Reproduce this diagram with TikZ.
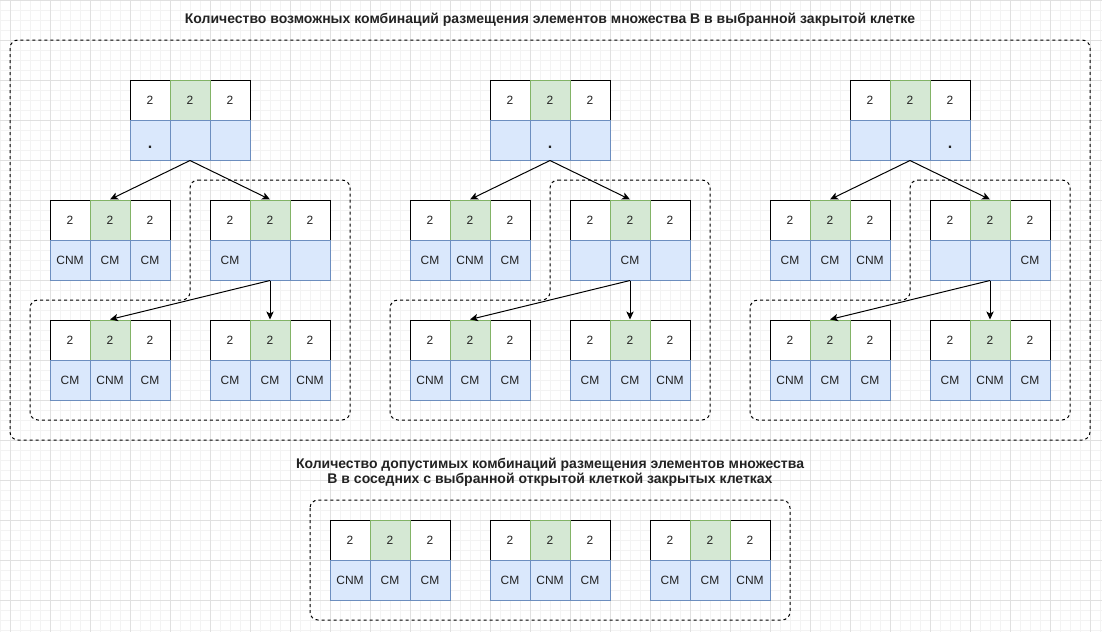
\documentclass[tikz,border=0pt]{standalone}
\usepackage{fontspec}
\setmainfont{Liberation Sans}
\usetikzlibrary{arrows.meta}
\definecolor{gfill}{HTML}{D5E8D4}
\definecolor{gdraw}{HTML}{82B366}
\definecolor{bfill}{HTML}{DAE8FC}
\definecolor{bdraw}{HTML}{6C8EBF}
\definecolor{gridmin}{HTML}{F3F3F3}
\definecolor{gridmaj}{HTML}{E0E0E0}
\definecolor{txt}{HTML}{222222}

\newcommand\cellblock[6]{%
  \node[numcell] (#1-t1) at (#2+20,#3+20) {2};
  \node[numcell] (#1-t3) at (#2+100,#3+20) {2};
  \node[selcell] (#1-t2) at (#2+60,#3+20) {2};
  \node[infocell] (#1-b1) at (#2+20,#3+60) {#4};
  \node[infocell] (#1-b2) at (#2+60,#3+60) {#5};
  \node[infocell] (#1-b3) at (#2+100,#3+60) {#6};
}
\newcommand\dotmark{\smash{\raisebox{-6pt}{\fontsize{12}{12}\bfseries .}}}
\newcommand\lshape[1]{%
  \draw[groupbox] (190+#1,180) -- (350+#1,180) -- (350+#1,420) -- (30+#1,420) -- (30+#1,300) -- (190+#1,300) -- cycle;
}

\begin{document}
\begin{tikzpicture}[x=0.75pt,y=-0.75pt,
  cell/.style={minimum width=30pt, minimum height=30pt, inner sep=0pt, font=\fontsize{9}{10}\selectfont, text=txt, line width=0.75pt},
  numcell/.style={cell, draw=black, fill=white},
  selcell/.style={cell, draw=gdraw, fill=gfill},
  infocell/.style={cell, draw=bdraw, fill=bfill},
  conn/.style={line width=0.75pt, -{Stealth[length=6pt,width=5.5pt,inset=1.5pt]}},
  groupbox/.style={draw=black, line width=0.75pt, dash pattern=on 2.25pt off 2.25pt, rounded corners=6pt},
  title/.style={font=\bfseries\fontsize{10.5}{11.5}\selectfont, align=center, text=txt, inner sep=0pt}]

\useasboundingbox (0,0) rectangle (1102,632);
\fill[white] (0,0) rectangle (1102,632);
\foreach \x in {0,10,...,1100} \draw[gridmin, line width=0.75pt] (\x,0) -- (\x,632);
\foreach \y in {0,10,...,630} \draw[gridmin, line width=0.75pt] (0,\y) -- (1102,\y);
\foreach \x in {10,50,...,1090} \draw[gridmaj, line width=0.75pt] (\x,0) -- (\x,632);
\foreach \y in {0,40,...,600} \draw[gridmaj, line width=0.75pt] (0,\y) -- (1102,\y);

% titles
\node[title] (title1) at (550,20) {Количество возможных комбинаций размещения элементов множества В в выбранной закрытой клетке};
\node[title] (title2) at (550,472) {Количество допустимых комбинаций размещения элементов множества\\В в соседних с выбранной открытой клеткой закрытых клетках};

% dashed boxes
\draw[groupbox] (10,40) rectangle (1090,440);
\lshape{0}
\lshape{360}
\lshape{720}
\draw[groupbox] (310,500) rectangle (790,620);

% group 1
\cellblock{aT}{130}{80}{\dotmark}{}{}
\cellblock{aL}{50}{200}{CNM}{CM}{CM}
\cellblock{aR}{210}{200}{CM}{}{}
\cellblock{aLL}{50}{320}{CM}{CNM}{CM}
\cellblock{aLR}{210}{320}{CM}{CM}{CNM}
% group 2
\cellblock{bT}{490}{80}{}{\dotmark}{}
\cellblock{bL}{410}{200}{CM}{CNM}{CM}
\cellblock{bR}{570}{200}{}{CM}{}
\cellblock{bLL}{410}{320}{CNM}{CM}{CM}
\cellblock{bLR}{570}{320}{CM}{CM}{CNM}
% group 3
\cellblock{cT}{850}{80}{}{}{\dotmark}
\cellblock{cL}{770}{200}{CM}{CM}{CNM}
\cellblock{cR}{930}{200}{}{}{CM}
\cellblock{cLL}{770}{320}{CNM}{CM}{CM}
\cellblock{cLR}{930}{320}{CM}{CNM}{CM}
% bottom
\cellblock{dA}{330}{520}{CNM}{CM}{CM}
\cellblock{dB}{490}{520}{CM}{CNM}{CM}
\cellblock{dC}{650}{520}{CM}{CM}{CNM}

% arrows
\foreach \g in {a,b,c} {
  \draw[conn] (\g T-b2.south) -- (\g L-t2.north);
  \draw[conn] (\g T-b2.south) -- (\g R-t2.north);
  \draw[conn] (\g R-b2.south) -- (\g LL-t2.north);
  \draw[conn] (\g R-b2.south) -- (\g LR-t2.north);
}
\end{tikzpicture}
\end{document}
